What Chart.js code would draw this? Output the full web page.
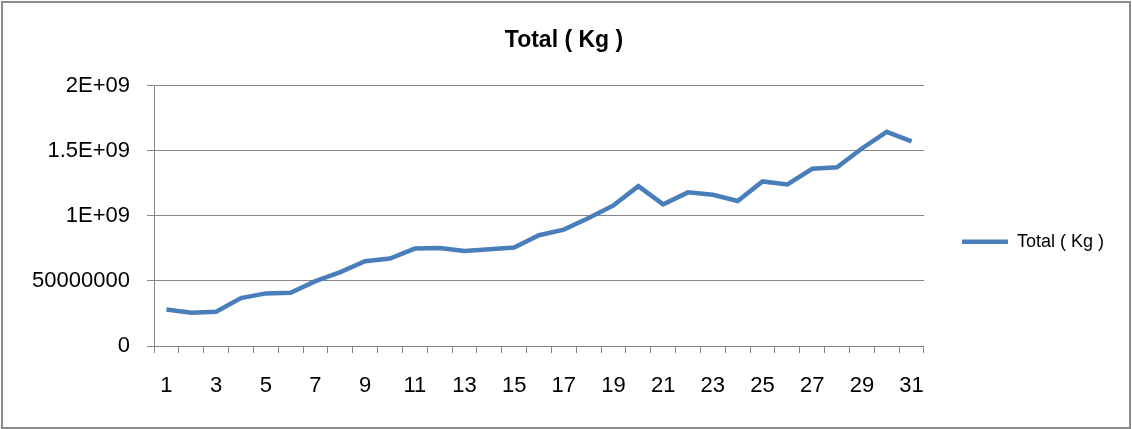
<!DOCTYPE html>
<html>
<head>
<meta charset="utf-8">
<script src="https://cdn.jsdelivr.net/npm/chart.js@4/dist/chart.umd.min.js"></script>
<style>
  body { margin: 0; background: #fff; }
  #wrap { width: 1132px; height: 429px; }
</style>
</head>
<body>
<div id="wrap"><canvas id="totalChart" width="1132" height="429"></canvas></div>
<script>
// days of the month
var days = [];
for (var d = 1; d <= 31; d++) days.push(String(d));

// Total ( Kg ) per day
var totalKg = [
  281e6, 255e6, 263e6, 368e6, 404e6, 409e6, 498e6, 567e6, 651e6, 672e6,
  748e6, 753e6, 730e6, 743e6, 756e6, 851e6, 894e6, 983e6, 1080e6, 1228e6,
  1088e6, 1180e6, 1162e6, 1114e6, 1264e6, 1241e6, 1361e6, 1372e6, 1517e6, 1645e6,
  1571e6
];

// y tick values and the text Excel showed for them
var yTickValues = [0, 5e8, 1e9, 1.5e9, 2e9];
var yTickLabels = ['0', '50000000', '1E+09', '1.5E+09', '2E+09'];

var seriesName = 'Total ( Kg )';
var gridColor = '#868686';
var lineColor = '#4a7ebb';
var fontFamily = 'Liberation Sans, Arial, sans-serif';

// outer frame + white background
var framePlugin = {
  id: 'frame',
  beforeDraw: function(chart) {
    var ctx = chart.ctx;
    ctx.save();
    ctx.fillStyle = '#fff';
    ctx.fillRect(0, 0, chart.width, chart.height);
    ctx.strokeStyle = '#8c8c8c';
    ctx.lineWidth = 2;
    ctx.strokeRect(2, 2, chart.width - 4, chart.height - 3);
    ctx.restore();
  }
};

var ctx = document.getElementById('totalChart');
var totalChart = new Chart(ctx, {
  type: 'line',
  data: {
    labels: days,
    datasets: [{
      label: seriesName,
      data: totalKg,
      borderColor: lineColor,
      backgroundColor: lineColor,
      borderWidth: 4.5,
      pointRadius: 0,
      pointHoverRadius: 0,
      tension: 0,
      fill: false
    }]
  },
  options: {
    responsive: false,
    animation: false,
    layout: { padding: { left: 14, right: 18, top: 0, bottom: 0 } },
    plugins: {
      title: {
        display: true,
        text: seriesName,
        color: '#000',
        font: { family: fontFamily, size: 23, weight: 'bold' },
        padding: { top: 27, bottom: 31 }
      },
      legend: {
        position: 'right',
        align: 'center',
        title: { display: true, text: '', font: { size: 12 }, padding: { top: 40, bottom: 0 } },
        labels: {
          usePointStyle: true,
          pointStyle: 'line',
          pointStyleWidth: 46,
          padding: 38,
          color: '#000',
          font: { family: fontFamily, size: 18 }
        }
      },
      tooltip: { enabled: false }
    },
    scales: {
      x: {
        offset: true,
        grid: {
          display: true,
          drawOnChartArea: false,
          drawTicks: true,
          tickLength: 7,
          offset: true,
          color: gridColor
        },
        border: { display: true, color: gridColor, width: 1 },
        ticks: {
          autoSkip: false,
          maxRotation: 0,
          padding: 20,
          color: '#000',
          font: { family: fontFamily, size: 22 },
          callback: function(value, index) {
            return index % 2 === 0 ? days[index] : '';
          }
        },
        afterFit: function(scale) { scale.height = 83; }
      },
      y: {
        min: 0,
        max: 2e9,
        afterBuildTicks: function(scale) {
          scale.ticks = yTickValues.map(function(v) { return { value: v }; });
        },
        grid: { color: gridColor, tickLength: 7, drawTicks: true },
        border: { display: true, color: gridColor, width: 1 },
        ticks: {
          padding: 17,
          color: '#000',
          font: { family: fontFamily, size: 22 },
          callback: function(value) {
            var i = yTickValues.indexOf(value);
            return i >= 0 ? yTickLabels[i] : '';
          }
        },
        afterFit: function(scale) { scale.width = 140; }
      }
    }
  },
  plugins: [framePlugin]
});
</script>
</body>
</html>
